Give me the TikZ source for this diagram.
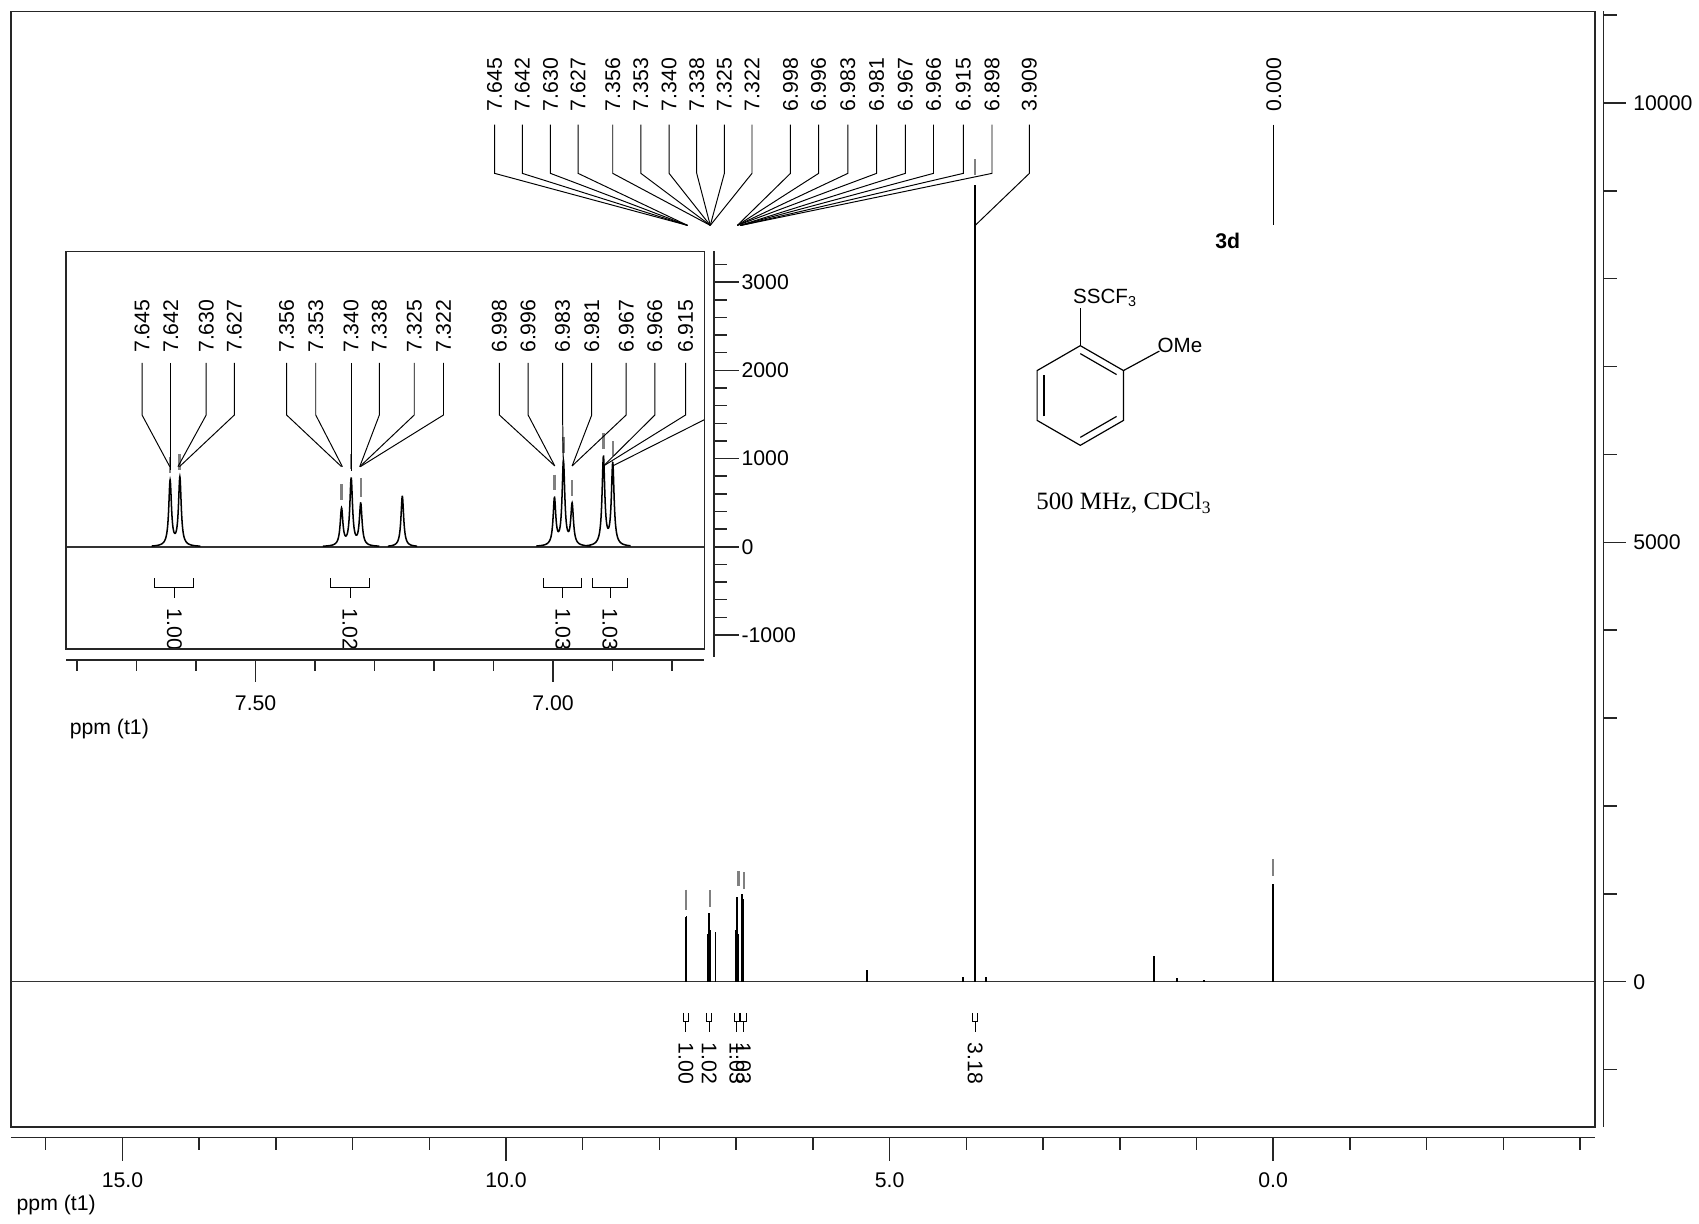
\documentclass[tikz,border=0pt]{standalone}
\usepackage{fontspec}
\setmainfont{Liberation Sans}
\newfontfamily\seriffont{Liberation Serif}
\usetikzlibrary{calc}

\begin{document}
\begin{tikzpicture}[x=0.5pt,y=-0.5pt,
    declare function={lor(\t,\m,\a)=\a/(1+((\t-\m)/1.5)^2);}]
        \tikzstyle{axis}=[line width=0.7pt, black!85]
        \tikzstyle{lblline}=[line width=0.45pt]
        \tikzstyle{spec}=[line width=0.7pt]
        \tikzstyle{pkmark}=[line width=1pt, gray]
        \tikzstyle{txt}=[inner sep=0pt, font=\fontsize{9.8}{11}\selectfont]
        \tikzstyle{pklabel}=[txt, rotate=90, anchor=west]
        \tikzstyle{intlabel}=[txt, rotate=-90, anchor=west]

        \useasboundingbox (0,0) rectangle (1568,1129);

        % main frame and axes
        \draw[axis] (10,10.5) rectangle (1472,1040);
        \draw[axis] (1480,10.5) -- (1480,1040);
        \foreach \k in {-1,...,11} \draw[axis] (1480,{906-81.1*\k}) -- ++(12,0);
        \foreach \k/\t in {0/0,5/5000,10/10000} {
            \draw[axis] (1480,{906-81.1*\k}) -- ++(21,0);
            \node[txt, anchor=west] (yl\k) at (1507,{906-81.1*\k}) {\t};
        }
        \draw[axis] (10,1050) -- (1472,1050);
        \foreach \p in {-4,...,16} \draw[axis] ({1175-70.8*\p},1050) -- ++(0,11);
        \foreach \p/\t in {0/0.0,5/5.0,10/10.0,15/15.0} {
            \draw[axis] ({1175-70.8*\p},1050) -- ++(0,21.6);
            \node[txt] (xl\p) at ({1175-70.8*\p},1089) {\t};
        }
        \node[txt, anchor=west] (ppm) at (15,1112) {ppm (t1)};

        % main spectrum
        \draw[spec, black!80] (10,906) -- (1472,906);
        \foreach \x/\y in {632.5/846, 633.5/845, 653.5/862, 654.5/843, 655.5/858,
            660.3/860, 679/858, 680/828, 681/862, 685/825, 686/830, 800.2/895.4,
            888.7/902, 900/171, 909.8/902, 1065/882, 1086/903, 1111/904, 1175/816}
            \draw[spec] (\x,906) -- (\x,\y);
        \foreach \x/\a/\b in {633/821/840, 655/821.5/837, 681.5/804/818,
            686.5/805/820, 900/147/161.5, 1175/793/808}
            \draw[pkmark] (\x,\a) -- (\x,\b);

        % main peak labels
        \foreach \lx/\px/\t [count=\i] in {456.5/634.5/7.645, 482/634.5/7.642,
            508/634.5/7.630, 533.5/634.5/7.627, 565.5/655.5/7.356, 591.5/655.5/7.353,
            617.5/655.5/7.340, 643/655.5/7.338, 668.5/655.5/7.325, 694/655.5/7.322,
            729.5/680.5/6.998, 755.5/680.5/6.996, 782.5/680.5/6.983, 809/680.5/6.981,
            835.5/683/6.967, 861.5/683/6.966, 889/684/6.915, 915.5/684/6.898,
            950/900/3.909, 1175.5/1175.5/0.000} {
            \node[pklabel] (top\i) at (\lx,103) {\t};
            \coordinate (bend\i) at (\lx,160);
            \coordinate (foot\i) at (\px,208);
            \draw[lblline] (top\i.west) ++(0,12) -- (bend\i) -- (foot\i);
        }

        % main integrals
        \foreach \c/\t [count=\i] in {633/1.00, 654.5/1.02, 680/1.03, 686/1.03, 900/3.18} {
            \draw[lblline] (\c-2.5,934.8) -- (\c-2.5,943) -- (\c+2.5,943) -- (\c+2.5,934.8);
            \draw[lblline] (\c,943) -- (\c,952);
            \node[intlabel] (int\i) at (\c,962) {\t};
        }

        % inset
        \begin{scope}
            \clip (61,232) rectangle (650,599);
            \draw[spec, black!80] (61,504.6) -- (650,504.6);
            \draw[spec] plot[domain=140:185, samples=226] (\x,{504.6-lor(\x,157,60)-lor(\x,166,63)});
            \draw[spec] plot[domain=298:350, samples=261] (\x,{504.6-lor(\x,315.2,34)-lor(\x,324.1,61.6)-lor(\x,332.9,38.5)});
            \draw[spec] plot[domain=358:385, samples=136] (\x,{504.6-lor(\x,371.3,46.6)});
            \draw[spec] plot[domain=495:545, samples=251] (\x,{504.6-lor(\x,511.7,43)-lor(\x,520,77)-lor(\x,528,37.6)});
            \draw[spec] plot[domain=542:582, samples=201] (\x,{504.6-lor(\x,556.9,81.6)-lor(\x,565.5,75.6)});
            \foreach \x/\a/\b in {156.7/421.5/436.9, 165.6/419.4/433.8, 315.2/447/461.5,
                324/419/433, 332.9/441/458.4, 511.7/438/452, 520/403/418, 528/443/458,
                556.9/400/414, 565.5/407/421}
                \draw[pkmark] (\x,\a) -- (\x,\b);
            \foreach \lx/\px/\py/\t [count=\i] in {131.1/156.7/430.7/7.645,
                157.6/157.6/434/7.642, 190.3/164.2/430.7/7.630, 216.3/165.6/430.7/7.627,
                264.5/315.2/430.7/7.356, 291.4/316/430.7/7.353, 324/324/435/7.340,
                350.1/332/430.7/7.338, 382.3/332/430.7/7.325, 409.3/332.5/430.7/7.322,
                460.9/512/430/6.998, 487.4/512/430/6.996, 519.2/520/435/6.983,
                546.1/528/430/6.981, 577.9/528/430/6.967, 604.4/557/430/6.966,
                632.7/557/430/6.915, 658.6/565.5/430/6.898} {
                \node[pklabel] (itop\i) at (\lx,326) {\t};
                \coordinate (ibend\i) at (\lx,383);
                \coordinate (ifoot\i) at (\px,\py);
                \draw[lblline] (itop\i.west) ++(0,9) -- (ibend\i) -- (ifoot\i);
            }
            \foreach \l/\r/\t [count=\i] in {143/179/1.00, 305/341/1.02, 502/537/1.03, 547/579/1.03} {
                \draw[lblline] (\l,533.6) -- (\l,542.4) -- (\r,542.4) -- (\r,533.6);
                \draw[lblline] ({(\l+\r)/2},542.4) -- ({(\l+\r)/2},552);
                \node[intlabel] (iint\i) at ({(\l+\r)/2},561.5) {\t};
            }
        \end{scope}
        \draw[axis] (61,232) rectangle (650,599);
        \draw[axis] (659,232) -- (659,606);
        \foreach \k in {-4,...,16} \draw[axis] (659,{504.6-16.28*\k}) -- ++(12,0);
        \foreach \k/\t [count=\i] in {-5/-1000,0/0,5/1000,10/2000,15/3000} {
            \draw[axis] (659,{504.6-16.28*\k}) -- ++(23,0);
            \node[txt, anchor=west] (iyl\i) at (684,{504.6-16.28*\k}) {\t};
        }
        \draw[axis] (61,609) -- (650,609);
        \foreach \k in {0,...,10} \draw[axis] ({71.2+54.9*\k},609) -- ++(0,10.5);
        \foreach \k/\t in {3/7.50,8/7.00} {
            \draw[axis] ({71.2+54.9*\k},609) -- ++(0,20);
            \node[txt] (ixl\k) at ({71.2+54.9*\k},649) {\t};
        }
        \node[txt, anchor=west] (ippm) at (64,673) {ppm (t1)};

        % molecule
        \node[txt, font=\bfseries\fontsize{9.8}{11}\selectfont, anchor=base] (cmpd) at (1133,229) {3d};
        \coordinate (rc) at (997,365);
        \foreach \a [count=\n] in {-90,-30,30,90,150,210}
            \coordinate (r\n) at ($(rc)+(\a:46)$);
        \draw[lblline, line width=0.55pt] (r1) -- (r2) -- (r3) -- (r4) -- (r5) -- (r6) -- cycle;
        \foreach \u/\v in {1/2,3/4,5/6}
            \draw[lblline, line width=0.55pt] ($(rc)!0.84!(r\u)$) -- ($(rc)!0.84!(r\v)$);
        \node[inner sep=0pt, font=\fontsize{9.5}{11}\selectfont, anchor=base west] (sub1) at (990,280) {SSCF\textsubscript{3}};
        \node[inner sep=0pt, font=\fontsize{9.5}{11}\selectfont, anchor=base west] (sub2) at (1068,325.5) {OMe};
        \coordinate (sb) at (997,284);
        \coordinate (ob) at (1070,324);
        \draw[lblline, line width=0.55pt] (r1) -- (sb);
        \draw[lblline, line width=0.55pt] (r2) -- (ob);
        \node[inner sep=0pt, font=\seriffont\fontsize{11.5}{13}\selectfont, anchor=base west] (cond) at (956,470) {500 MHz, CDCl\textsubscript{3}};
\end{tikzpicture}
\end{document}
